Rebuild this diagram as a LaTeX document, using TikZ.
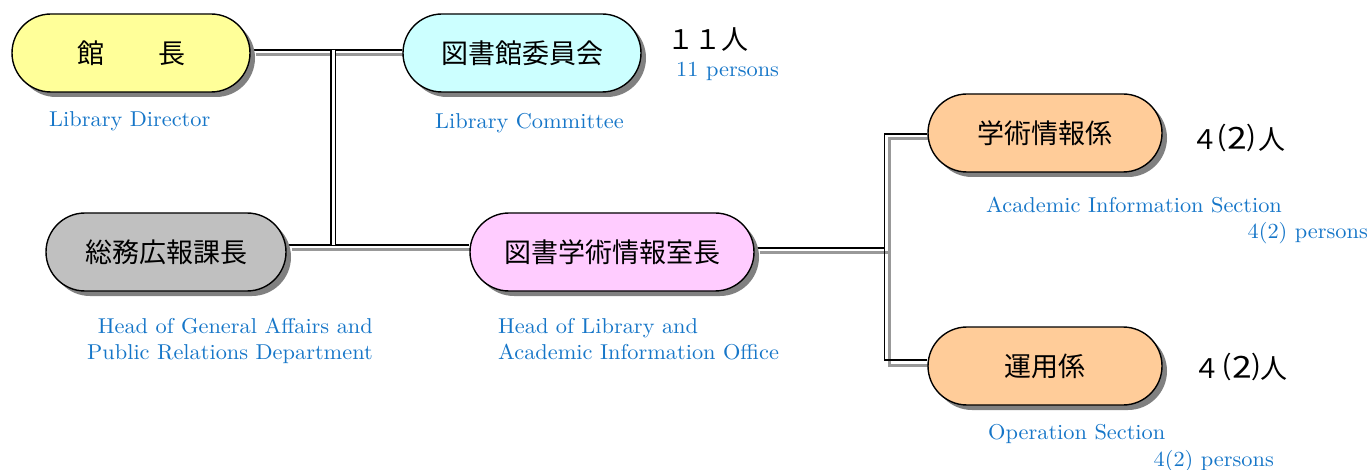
\documentclass[tikz,border=0pt]{standalone}
\usepackage{fontspec}
\usepackage{graphicx}
\newfontfamily\jpfont{Noto Sans CJK JP}
\newfontfamily\enfont{lmroman10-regular}[Extension=.otf, FakeStretch=1.04]
\usetikzlibrary{shadows,backgrounds}
\definecolor{enblue}{RGB}{22,118,200}
\definecolor{dirfill}{RGB}{255,255,153}
\definecolor{comfill}{RGB}{204,255,255}
\definecolor{genfill}{RGB}{192,192,192}
\definecolor{offfill}{RGB}{255,204,255}
\definecolor{secfill}{RGB}{255,204,153}
\newcommand\paren[1]{\scalebox{1.35}[1.12]{#1}}

\begin{document}
\begin{tikzpicture}[x=1pt,y=-1pt,
    pill/.style={draw, line width=1.4pt, rounded corners=39pt, minimum height=78pt, inner sep=0pt,
      font=\jpfont\fontsize{27}{27}\selectfont,
      drop shadow={shadow xshift=5pt, shadow yshift=-5pt, fill=black!50, opacity=1}},
    en/.style={text=enblue, inner sep=0pt, font=\enfont\fontsize{21.5}{26}\selectfont},
    count/.style={inner sep=0pt, font=\jpfont\fontsize{27}{27}\selectfont},
    link/.style={line width=1.4pt},
    linkshade/.style={line width=3pt, draw=black!40, transform canvas={xshift=5pt,yshift=-5pt}},
    dlink/.style={double, double distance=3pt, line width=1.3pt}]
   \useasboundingbox (0,0) rectangle (1370,470);

   \node[pill, fill=dirfill, minimum width=238pt] (director) at (131,53) {館　　長};
   \node[pill, fill=comfill, minimum width=238pt] (committee) at (522,53) {図書館委員会};
   \node[pill, fill=genfill, minimum width=240pt] (generalhead) at (166,252) {総務広報課長};
   \node[pill, fill=offfill, minimum width=284pt] (officehead) at (612,252) {図書学術情報室長};
   \node[pill, fill=secfill, minimum width=234pt] (acadsec) at (1045,133) {学術情報係};
   \node[pill, fill=secfill, minimum width=234pt] (opsec) at (1045,366) {運用係};

   \node[en, anchor=base west] (dirlabel) at (49,127) {Library Director};
   \node[en, anchor=base west] (comlabel) at (435,129) {Library Committee};
   \node[count, anchor=base west] (comnum) at (667,50) {１１人};
   \node[en, anchor=base west] (comcount) at (676,77) {11 persons};
   \node[en, anchor=north east, align=right] (genlabel) at (373,318) {Head of General Affairs and\\Public Relations Department};
   \node[en, anchor=north west, align=left] (offlabel) at (498,318) {Head of Library and\\Academic Information Office};
   \node[count, anchor=base west] (acadnum) at (1191,150) {４\paren{⑵}\hspace{4pt}人};
   \node[en, anchor=base west] (acadlabel) at (986,213) {Academic Information Section};
   \node[en, anchor=base east] (acadcount) at (1368,239) {4(2) persons};
   \node[count, anchor=base west] (opnum) at (1193,378) {４\hspace{3pt}\paren{⑵}\hspace{1pt}人};
   \node[en, anchor=base west] (oplabel) at (988,439) {Operation Section};
   \node[en, anchor=base east] (opcount) at (1274,466) {4(2) persons};

   \coordinate (jtop) at (333,50);
   \coordinate (jbot) at (333,245);

   \begin{scope}[on background layer]
     %\draw[help lines] (0,0) grid[step=50] (1370,470);
     \draw[linkshade] ([yshift=3pt]director.east) -- ([yshift=3pt]committee.west);
     \draw[linkshade] ([yshift=7pt]generalhead.east) -- ([yshift=7pt]officehead.west);
     \draw[linkshade] ([yshift=4pt]officehead.east) -- ++(130,0) coordinate (forkshade);
     \draw[linkshade] ([yshift=-1pt]acadsec.west) -| (forkshade) |- ([yshift=6pt]opsec.west);

     \draw[link] ([yshift=3pt]director.east) -- ([yshift=3pt]committee.west);
     \draw[link] ([yshift=7pt]generalhead.east) -- ([yshift=7pt]officehead.west);
     \draw[link] ([yshift=4pt]officehead.east) -- ++(130,0) coordinate (fork);
     \draw[link] ([yshift=-1pt]acadsec.west) -| (fork) |- ([yshift=6pt]opsec.west);
     \draw[dlink] (jtop) -- (jbot);
   \end{scope}

 \end{tikzpicture}
\end{document}
